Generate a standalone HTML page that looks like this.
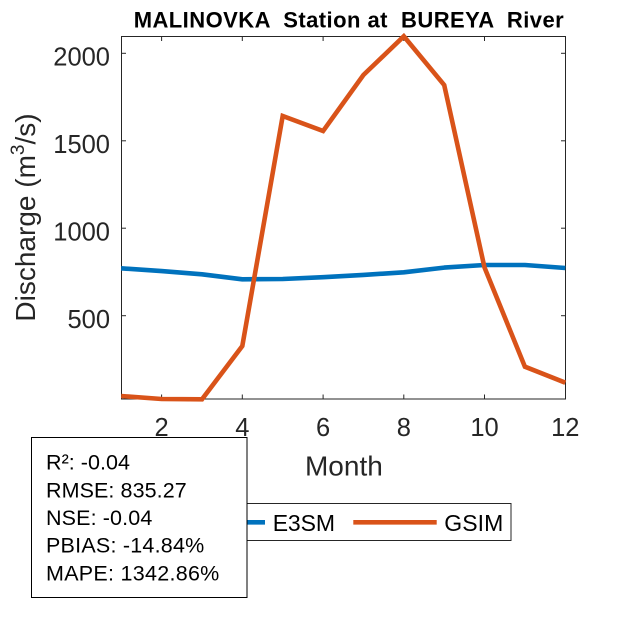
<!DOCTYPE html>
<html>
<head>
<meta charset="utf-8">
<style>
html,body{margin:0;padding:0;background:#fff;}
svg{display:block;}
text{font-family:"Liberation Sans",Arial,sans-serif;}
</style>
</head>
<body>
<svg width="625" height="625" viewBox="0 0 625 625" xmlns="http://www.w3.org/2000/svg">
<rect x="0" y="0" width="625" height="625" fill="#fff"/>

<!-- Title -->
<text x="348.7" y="27.7" font-size="22" font-weight="bold" text-anchor="middle" fill="#000" textLength="430" lengthAdjust="spacing" xml:space="preserve">MALINOVKA  Station at  BUREYA  River</text>

<!-- Axes box -->
<rect x="121.5" y="36.5" width="444" height="362.5" fill="none" stroke="#262626" stroke-width="1"/>

<!-- X ticks -->
<g stroke="#262626" stroke-width="1">
  <line x1="161.6" y1="399" x2="161.6" y2="394.5"/>
  <line x1="242.3" y1="399" x2="242.3" y2="394.5"/>
  <line x1="323.1" y1="399" x2="323.1" y2="394.5"/>
  <line x1="403.8" y1="399" x2="403.8" y2="394.5"/>
  <line x1="484.5" y1="399" x2="484.5" y2="394.5"/>
  <line x1="161.6" y1="36.5" x2="161.6" y2="41"/>
  <line x1="242.3" y1="36.5" x2="242.3" y2="41"/>
  <line x1="323.1" y1="36.5" x2="323.1" y2="41"/>
  <line x1="403.8" y1="36.5" x2="403.8" y2="41"/>
  <line x1="484.5" y1="36.5" x2="484.5" y2="41"/>
  <!-- Y ticks -->
  <line x1="121.5" y1="53.3" x2="126" y2="53.3"/>
  <line x1="121.5" y1="140.8" x2="126" y2="140.8"/>
  <line x1="121.5" y1="228.2" x2="126" y2="228.2"/>
  <line x1="121.5" y1="315.7" x2="126" y2="315.7"/>
  <line x1="565.5" y1="53.3" x2="561" y2="53.3"/>
  <line x1="565.5" y1="140.8" x2="561" y2="140.8"/>
  <line x1="565.5" y1="228.2" x2="561" y2="228.2"/>
  <line x1="565.5" y1="315.7" x2="561" y2="315.7"/>
</g>

<!-- Y tick labels -->
<g font-size="25.5" fill="#262626" text-anchor="end">
  <text x="110" y="65.7">2000</text>
  <text x="110" y="153.2">1500</text>
  <text x="110" y="240.6">1000</text>
  <text x="110" y="328.1">500</text>
</g>

<!-- X tick labels -->
<g font-size="25.5" fill="#262626" text-anchor="middle">
  <text x="161.6" y="436">2</text>
  <text x="242.3" y="436">4</text>
  <text x="323.1" y="436">6</text>
  <text x="403.8" y="436">8</text>
  <text x="484.5" y="436">10</text>
  <text x="565.3" y="436">12</text>
</g>

<!-- X label -->
<text x="343.9" y="475.7" font-size="28" fill="#262626" text-anchor="middle">Month</text>

<!-- Y label -->
<text transform="translate(35,217.5) rotate(-90)" x="0" y="0" font-size="28" fill="#262626" text-anchor="middle">Discharge (m<tspan font-size="19" dy="-11">3</tspan><tspan dy="11">/s)</tspan></text>

<!-- E3SM series -->
<polyline fill="none" stroke="#0072BD" stroke-width="4.6" stroke-linejoin="round"
 points="121.2,268.3 161.6,271.1 202.0,274.3 242.3,279.3 282.7,279.0 323.1,277.2 363.4,274.9 403.8,272.3 444.2,267.6 484.5,265.0 524.9,265.0 565.3,268.0"/>

<!-- GSIM series -->
<polyline fill="none" stroke="#D95319" stroke-width="4.6" stroke-linejoin="miter"
 points="121.2,396.0 161.6,399.0 202.0,399.3 242.3,346.0 282.7,116.0 323.1,131.0 363.4,75.0 403.8,36.3 444.2,85.0 484.5,267.5 524.9,366.7 565.3,382.7"/>

<!-- Legend -->
<rect x="174.5" y="503.5" width="336.5" height="37" fill="#fff" stroke="#262626" stroke-width="1"/>
<line x1="182" y1="522.3" x2="265" y2="522.3" stroke="#0072BD" stroke-width="4.6"/>
<text x="272.7" y="531" font-size="23" fill="#000" textLength="62.3" lengthAdjust="spacing">E3SM</text>
<line x1="353.3" y1="522.3" x2="436.7" y2="522.3" stroke="#D95319" stroke-width="4.6"/>
<text x="444.3" y="531" font-size="23" fill="#000" textLength="59" lengthAdjust="spacing">GSIM</text>

<!-- Stats box -->
<rect x="31.5" y="437.5" width="215.5" height="160" fill="#fff" stroke="#000" stroke-width="1"/>
<g font-size="21.5" fill="#000">
  <text x="46" y="469.3" textLength="84" lengthAdjust="spacing">R²: -0.04</text>
  <text x="46" y="497.5" textLength="140.7" lengthAdjust="spacing">RMSE: 835.27</text>
  <text x="46" y="525" textLength="106.3" lengthAdjust="spacing">NSE: -0.04</text>
  <text x="46" y="552.7" textLength="158.3" lengthAdjust="spacing">PBIAS: -14.84%</text>
  <text x="46" y="580.7" textLength="173.3" lengthAdjust="spacing">MAPE: 1342.86%</text>
</g>
</svg>
</body>
</html>
